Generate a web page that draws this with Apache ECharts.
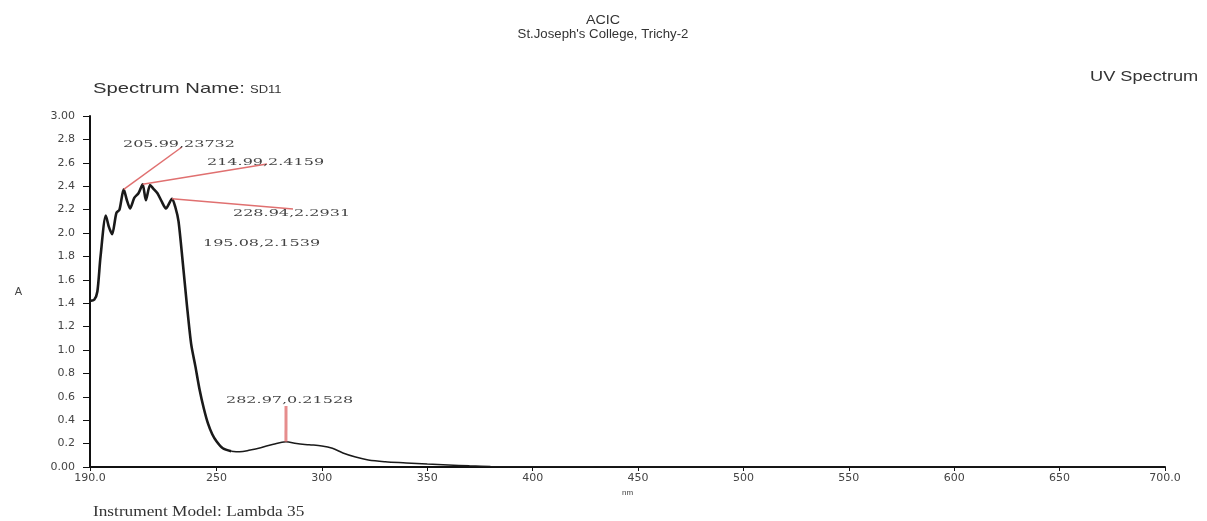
<!DOCTYPE html>
<html>
<head>
<meta charset="utf-8">
<script src="https://cdn.jsdelivr.net/npm/echarts@6/dist/echarts.min.js"></script>
<style>
    html, body {margin: 0; padding: 0; background: #fff;}
    #chart {width: 1207px; height: 521px;}
</style>
</head>
<body>
<div id="chart"></div>
<script>
// ------------------ data ------------------
const wavelength = [190, 192, 193.5, 195, 197.5, 199, 200.5, 202.5, 204, 205.99, 207.5, 209, 211, 213, 214.99,
    216.5, 218.5, 220, 222, 224, 226, 228.94, 230.5, 232, 234, 236, 238, 240, 242, 244, 246, 248, 250,
    253, 257, 261, 266, 271, 277, 282.97, 288, 294, 300, 305, 310, 316, 322, 330, 340, 350, 360, 370,
    380, 400, 450, 500, 700];
const absorbance = [1.42, 1.43, 1.50, 1.80, 2.15, 2.05, 1.99, 2.17, 2.20, 2.3732, 2.28, 2.21, 2.30, 2.34, 2.4159,
    2.28, 2.41, 2.38, 2.34, 2.27, 2.21, 2.2931, 2.22, 2.10, 1.75, 1.38, 1.05, 0.86, 0.66, 0.50, 0.37, 0.28, 0.22,
    0.16, 0.135, 0.13, 0.145, 0.165, 0.195, 0.21528, 0.20, 0.19, 0.18, 0.16, 0.12, 0.085, 0.06, 0.045, 0.035, 0.025, 0.018, 0.01,
    0.005, 0.002, 0.001, 0, 0];

const xTicks = [190, 250, 300, 350, 400, 450, 500, 550, 600, 650, 700];

// peak picks (as printed on the chart)
const peakNm = [205.99, 214.99, 228.94, 282.97];
const peakAbs = [2.3732, 2.4159, 2.2931, 0.21528];
const peakText = ['205.99,23732', '214.99,2.4159', '228.94,2.2931', '282.97,0.21528'];
const looseText = '195.08,2.1539';

// pixel placement of the pick labels (leader end, label left/middle)
const PICK_LAYOUT = [
    {end: [182, 147], label: [123, 144]},
    {end: [267, 164], label: [207, 162]},
    {end: [293, 209], label: [233, 213]},
    {end: [286, 406], label: [226, 400]}
];

const SPLIT_NM = 257; // the trace is drawn heavier up to here
const RED = '#e07070';
const SANS = '"Liberation Sans", Arial, sans-serif';
const SERIF = '"Liberation Serif", "Times New Roman", serif';

let points = wavelength.map(function (w, i) {
    return [w, absorbance[i]];
});

let myChart = echarts.init(document.getElementById('chart'), null, {renderer: 'canvas'});

let option = {
    animation: false,
    backgroundColor: '#fff',
    grid: {left: 90, right: 42, top: 116, bottom: 54},
    xAxis: {
        type: 'value',
        min: 190,
        max: 700,
        name: 'nm',
        nameLocation: 'middle',
        nameGap: 19,
        nameTextStyle: {fontSize: 8, color: '#444', fontFamily: SANS},
        axisLine: {lineStyle: {color: '#111', width: 2}},
        axisTick: {customValues: xTicks, length: 4, lineStyle: {color: '#111'}},
        axisLabel: {
            customValues: xTicks,
            margin: 6,
            fontSize: 11,
            color: '#444',
            fontFamily: '"DejaVu Sans", sans-serif',
            formatter: function (v) {
                return (v === 190 || v === 700) ? v.toFixed(1) : String(v);
            }
        },
        splitLine: {show: false}
    },
    yAxis: {
        type: 'value',
        min: 0,
        max: 3,
        interval: 0.2,
        name: 'A',
        nameLocation: 'middle',
        nameRotate: 0,
        nameGap: 68,
        nameTextStyle: {fontSize: 11, color: '#444', fontFamily: SANS, padding: [10, 0, 0, 0]},
        axisLine: {show: true, lineStyle: {color: '#111', width: 2}},
        axisTick: {show: true, length: 7, lineStyle: {color: '#111'}},
        axisLabel: {
            margin: 15,
            fontSize: 11,
            color: '#444',
            fontFamily: '"DejaVu Sans", sans-serif',
            formatter: function (v) {
                if (Math.abs(v) < 1e-6) return '0.00';
                if (Math.abs(v - 3) < 1e-6) return '3.00';
                return v.toFixed(1);
            }
        },
        splitLine: {show: false}
    },
    series: [{
        name: 'SD11',
        type: 'line',
        showSymbol: false,
        smooth: 0.25,
        lineStyle: {color: '#1a1a1a', width: 2.6},
        data: points.filter(function (p) { return p[0] <= SPLIT_NM; }),
        z: 3
    }, {
        name: 'SD11 tail',
        type: 'line',
        showSymbol: false,
        smooth: 0.35,
        lineStyle: {color: '#1a1a1a', width: 1.5},
        data: points.filter(function (p) { return p[0] >= SPLIT_NM; }),
        z: 3
    }]
};

myChart.setOption(option);

// ------------------ header / footer texts ------------------
function txt(x, y, text, font, opts) {
    opts = opts || {};
    return {
        type: 'text',
        x: x,
        y: y,
        scaleX: opts.scaleX || 1,
        style: {
            text: text,
            font: font,
            fill: opts.fill || '#333',
            align: opts.align || 'left',
            verticalAlign: 'middle'
        },
        z: 10
    };
}

let graphics = [
    txt(603, 20, 'ACIC', '13px ' + SANS, {align: 'center', scaleX: 1.1}),
    txt(603, 35, "St.Joseph's College, Trichy-2", '12px ' + SANS, {align: 'center', scaleX: 1.1}),
    txt(93, 89, 'Spectrum Name:', '15px ' + SANS, {scaleX: 1.35}),
    txt(250, 90, 'SD11', '10px ' + SANS, {scaleX: 1.3}),
    txt(1090, 77, 'UV Spectrum', '14px ' + SANS, {scaleX: 1.3}),
    txt(93, 512, 'Instrument Model: Lambda 35', '15px ' + SERIF, {scaleX: 1.15})
];

// ------------------ peak picks ------------------
peakNm.forEach(function (nm, i) {
    let p = myChart.convertToPixel({gridIndex: 0}, [nm, peakAbs[i]]);
    let lay = PICK_LAYOUT[i];
    let vertical = (i === peakNm.length - 1);
    graphics.push({
        type: 'line',
        shape: {x1: p[0], y1: p[1], x2: lay.end[0], y2: lay.end[1]},
        style: {stroke: RED, lineWidth: vertical ? 3 : 1.5, opacity: vertical ? 0.8 : 1},
        z: 5
    });
    graphics.push(txt(lay.label[0], lay.label[1], peakText[i], '10px "DejaVu Serif", serif', {scaleX: 1.6, fill: '#444'}));
});
graphics.push(txt(203, 243, looseText, '10px "DejaVu Serif", serif', {scaleX: 1.6, fill: '#444'}));

myChart.setOption({graphic: graphics});
</script>
</body>
</html>
